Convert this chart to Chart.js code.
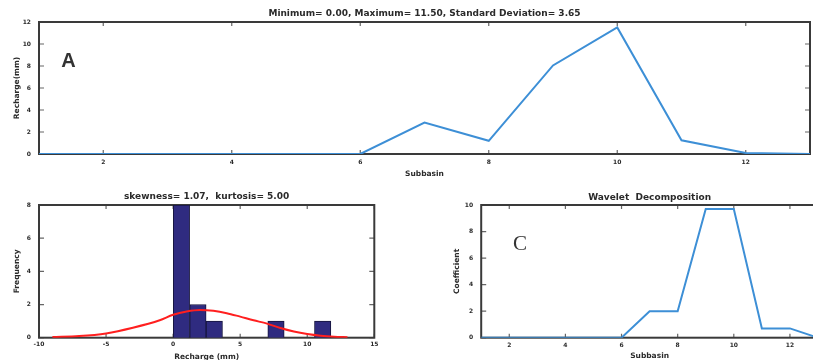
<!DOCTYPE html>
<html>
<head>
<meta charset="utf-8">
<script src="https://cdn.jsdelivr.net/npm/chart.js@4"></script>
<style>
  html, body { margin: 0; padding: 0; background: #fff; overflow: hidden; width: 813px; height: 360px; }
  canvas { position: absolute; }
</style>
</head>
<body>
<canvas id="chartA" width="813" height="180" style="left:0;top:0"></canvas>
<canvas id="chartB" width="400" height="190" style="left:0;top:180px"></canvas>
<canvas id="chartC" width="400" height="190" style="left:420px;top:180px"></canvas>
<script>
// values
const subbasins = [1, 2, 3, 4, 5, 6, 7, 8, 9, 10, 11, 12, 13];
const recharge = [0, 0, 0, 0, 0, 0, 2.85, 1.2, 8.05, 11.5, 1.25, 0.1, 0];
const coefficient = [0, 0, 0, 0, 0, 0, 2, 2, 9.7, 9.7, 0.7, 0.7, 0];

const binCenters = [0.62, 1.85, 3.07, 7.67, 11.15];
const binCounts = [8, 2, 1, 1, 1];
const fitX = [-9, -7, -5, -3, -1, 0, 1, 2, 3, 4, 5, 6, 7, 8, 9, 10, 11, 12, 13];
const fitY = [0.04, 0.1, 0.26, 0.6, 1.05, 1.38, 1.58, 1.67, 1.62, 1.48, 1.27, 1.05, 0.85, 0.58, 0.37, 0.22, 0.12, 0.06, 0.03];

const subbasinTicks = [2, 4, 6, 8, 10, 12];
const rechargeTicks = [0, 2, 4, 6, 8, 10, 12];
const histXTicks = [-10, -5, 0, 5, 10, 15];
const freqTicks = [0, 2, 4, 6, 8];
const coefTicks = [0, 2, 4, 6, 8, 10];

const textColor = "#2a2a2a";
const lineBlue = "#3d8fd6";
const tickFont = { family: "DejaVu Sans", size: 6, weight: "bold" };
const axisFont = { family: "DejaVu Sans", size: 7.5, weight: "bold", lineHeight: 1.2 };
const titleFont = { family: "DejaVu Sans", size: 9, weight: "bold", lineHeight: 1.2 };

// MATLAB-like box with inward ticks on all four sides
const framePlugin = {
  id: "frame",
  beforeDatasetsDraw(chart) {
    const { ctx, chartArea: a, scales } = chart;
    ctx.save();
    ctx.strokeStyle = "#666";
    ctx.lineWidth = 1.2;
    ctx.beginPath();
    scales.x.ticks.forEach((t) => {
      const px = scales.x.getPixelForValue(t.value);
      ctx.moveTo(px, a.bottom); ctx.lineTo(px, a.bottom - 4);
      ctx.moveTo(px, a.top); ctx.lineTo(px, a.top + 4);
    });
    scales.y.ticks.forEach((t) => {
      const py = scales.y.getPixelForValue(t.value);
      ctx.moveTo(a.left, py); ctx.lineTo(a.left + 5, py);
      ctx.moveTo(a.right, py); ctx.lineTo(a.right - 5, py);
    });
    ctx.stroke();
    ctx.strokeStyle = "#3a3a3a";
    ctx.lineWidth = 2;
    ctx.strokeRect(a.left, a.top, a.right - a.left, a.bottom - a.top);
    ctx.restore();
  },
};

// panel letter placed in data coordinates
const panelLabel = {
  id: "panelLabel",
  afterDatasetsDraw(chart, args, opts) {
    if (!opts.text) return;
    const { ctx, scales } = chart;
    ctx.save();
    ctx.font = opts.font;
    ctx.fillStyle = "#333";
    ctx.textAlign = "center";
    ctx.textBaseline = "middle";
    ctx.fillText(opts.text, scales.x.getPixelForValue(opts.x), scales.y.getPixelForValue(opts.y));
    ctx.restore();
  },
};

function fixedTicks(values) {
  return (scale) => {
    scale.ticks = values.map((v) => ({ value: v }));
  };
}

function xScale(min, max, ticks, height, labelPad, title, titleBottom) {
  return {
    type: "linear",
    min: min,
    max: max,
    offset: false,
    afterBuildTicks: fixedTicks(ticks),
    afterFit: (s) => { s.height = height; },
    grid: { display: false, drawTicks: false },
    border: { display: false },
    ticks: { padding: labelPad, font: tickFont, color: textColor, maxRotation: 0 },
    title: { display: true, text: title, font: axisFont, color: textColor, padding: { top: 0, bottom: titleBottom } },
  };
}

function yScale(min, max, ticks, width, title, titleLeft) {
  return {
    min: min,
    max: max,
    afterBuildTicks: fixedTicks(ticks),
    afterFit: (s) => { s.width = width; },
    grid: { display: false, drawTicks: false },
    border: { display: false },
    ticks: { padding: 8, font: tickFont, color: textColor },
    title: { display: true, text: title, font: axisFont, color: textColor, padding: { top: titleLeft, bottom: 0 } },
  };
}

function chartTitle(text, top, bottom) {
  return { display: true, text: text, font: titleFont, color: textColor, fullSize: false, padding: { top: top, bottom: bottom } };
}

Chart.register(framePlugin, panelLabel);

new Chart(document.getElementById("chartA"), {
  type: "line",
  data: {
    datasets: [
      {
        data: subbasins.map((s, i) => ({ x: s, y: recharge[i] })),
        borderColor: lineBlue,
        borderWidth: 2,
        pointRadius: 0,
        tension: 0,
        fill: false,
      },
    ],
  },
  options: {
    responsive: false,
    animation: false,
    layout: { padding: { left: 0, right: 3, top: 0, bottom: 0 } },
    plugins: {
      legend: { display: false },
      tooltip: { enabled: false },
      title: chartTitle("Minimum= 0.00, Maximum= 11.50, Standard Deviation= 3.65", 8.6, 2.6),
      panelLabel: { text: "A", x: 1.46, y: 8.4, font: "bold 20px 'Liberation Sans'" },
    },
    scales: {
      x: xScale(1, 13, subbasinTicks, 26, 4.4, "Subbasin", 1.5),
      y: yScale(0, 12, rechargeTicks, 39, "Recharge(mm)", 12.5),
    },
  },
});

new Chart(document.getElementById("chartB"), {
  type: "bar",
  data: {
    datasets: [
      {
        type: "line",
        data: fitX.map((v, i) => ({ x: v, y: fitY[i] })),
        borderColor: "#ff1f1f",
        borderWidth: 2,
        pointRadius: 0,
        cubicInterpolationMode: "monotone",
        fill: false,
        order: 1,
      },
      {
        type: "bar",
        data: binCenters.map((v, i) => ({ x: v, y: binCounts[i] })),
        backgroundColor: "#2f2b80",
        borderColor: "#16153d",
        borderWidth: 1,
        barPercentage: 1,
        categoryPercentage: 1,
        order: 2,
      },
    ],
  },
  options: {
    responsive: false,
    animation: false,
    layout: { padding: { left: 0, right: 25.7, top: 0, bottom: 0 } },
    plugins: {
      legend: { display: false },
      tooltip: { enabled: false },
      title: chartTitle("skewness= 1.07,  kurtosis= 5.00", 11.6, 2.6),
    },
    scales: {
      x: xScale(-10, 15, histXTicks, 32.3, 3, "Recharge (mm)", 8.5),
      y: yScale(0, 8, freqTicks, 39, "Frequency", 12.5),
    },
  },
});

new Chart(document.getElementById("chartC"), {
  type: "line",
  data: {
    datasets: [
      {
        data: subbasins.map((s, i) => ({ x: s, y: coefficient[i] })),
        borderColor: lineBlue,
        borderWidth: 2,
        pointRadius: 0,
        tension: 0,
        fill: false,
      },
    ],
  },
  options: {
    responsive: false,
    animation: false,
    layout: { padding: { left: 0, right: 2, top: 0, bottom: 0 } },
    plugins: {
      legend: { display: false },
      tooltip: { enabled: false },
      title: chartTitle("Wavelet  Decomposition", 12.1, 2.1),
      panelLabel: { text: "C", x: 2.38, y: 7.0, font: "21px 'Liberation Serif'" },
    },
    scales: {
      x: xScale(1, 13, subbasinTicks, 32.3, 3.7, "Subbasin", 9.5),
      y: yScale(0, 10, coefTicks, 61.2, "Coefficient", 32.5),
    },
  },
});
</script>
</body>
</html>
